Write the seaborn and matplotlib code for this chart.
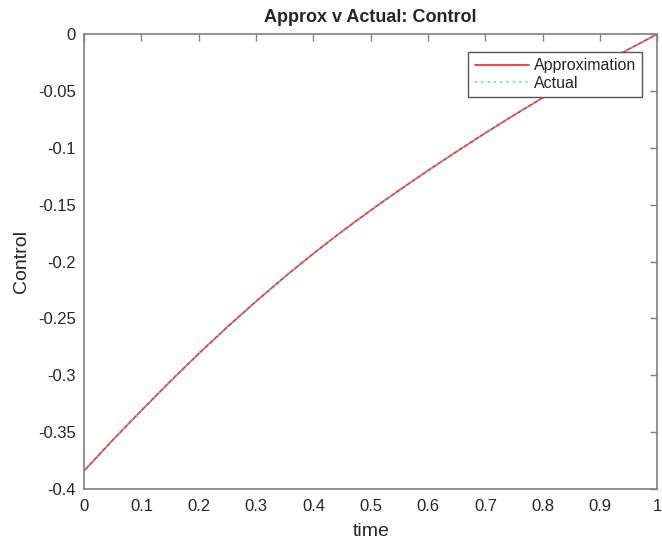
import numpy as np
import pandas as pd
import matplotlib
matplotlib.use("Agg")
import matplotlib.pyplot as plt
from matplotlib.ticker import FormatStrFormatter
import seaborn as sns

# values
time = [0.0, 0.05, 0.1, 0.15, 0.2, 0.25, 0.3, 0.35, 0.4, 0.45, 0.5,
        0.55, 0.6, 0.65, 0.7, 0.75, 0.8, 0.85, 0.9, 0.95, 1.0]
approximation = [-0.384, -0.357, -0.331, -0.3055, -0.281, -0.2575, -0.235, -0.2135,
                 -0.193, -0.1735, -0.155, -0.1372, -0.120, -0.1033, -0.087, -0.0713,
                 -0.056, -0.0413, -0.027, -0.0134, 0.0]
actual = [-0.384, -0.357, -0.331, -0.3055, -0.281, -0.2575, -0.235, -0.2135,
          -0.193, -0.1735, -0.155, -0.1372, -0.120, -0.1033, -0.087, -0.0713,
          -0.056, -0.0413, -0.027, -0.0134, 0.0]
x_ticks = [0, 0.1, 0.2, 0.3, 0.4, 0.5, 0.6, 0.7, 0.8, 0.9, 1]
y_ticks = [-0.4, -0.35, -0.3, -0.25, -0.2, -0.15, -0.1, -0.05, 0]

sns.set_style("white")
plt.rcParams['font.family'] = ['Liberation Sans', 'DejaVu Sans']
plt.rcParams['axes.unicode_minus'] = False

df = pd.DataFrame({'time': time, 'Approximation': approximation, 'Actual': actual})

fig = plt.figure(figsize=(6.62, 5.46), dpi=100)
ax = fig.add_axes([0.127, 0.1044, 0.866, 0.8333])

sns.lineplot(data=df, x='time', y='Approximation', ax=ax, color='#ff3030',
             linewidth=1.3, label='Approximation')
sns.lineplot(data=df, x='time', y='Actual', ax=ax, color='#30e0e0',
             linewidth=1.3, linestyle=(0, (1, 2.5)), label='Actual')

ax.set_xlim(0, 1)
ax.set_ylim(-0.4, 0)
ax.set_xticks(x_ticks)
ax.set_yticks(y_ticks)
ax.xaxis.set_major_formatter(FormatStrFormatter('%g'))
ax.yaxis.set_major_formatter(FormatStrFormatter('%g'))

gray = '#808080'
for sp in ax.spines.values():
    sp.set_color(gray)
    sp.set_linewidth(1.2)
ax.tick_params(direction='in', length=5, width=1.0, color=gray,
               top=True, right=True, labelsize=12, labelcolor='#262626')
ax.tick_params(axis='x', pad=7)
ax.tick_params(axis='y', pad=6)

ax.set_xlabel('time', fontsize=14, color='#262626', labelpad=7)
ax.set_ylabel('Control', fontsize=14, color='#262626', labelpad=6)
ax.set_title('Approx v Actual: Control', fontsize=13, fontweight='bold', pad=9)

leg = ax.legend(loc='upper right', bbox_to_anchor=(0.974, 0.961), borderaxespad=0,
                fancybox=False, framealpha=1, edgecolor='#555555', fontsize=11.5,
                handlelength=3.4, handletextpad=0.3, labelspacing=0.15,
                borderpad=0.4)
leg.get_frame().set_linewidth(1.0)

fig.savefig('out.png', dpi=100)
